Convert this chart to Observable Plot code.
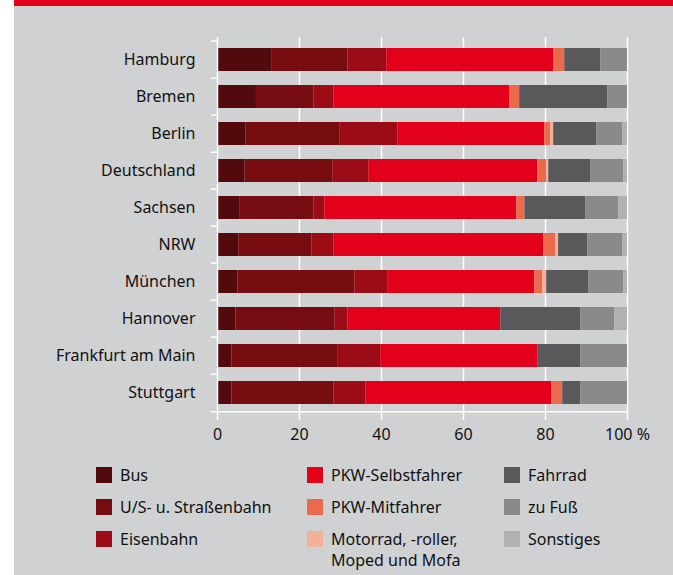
<!DOCTYPE html>
<html>
<head>
<meta charset="utf-8">
<script src="https://cdn.jsdelivr.net/npm/d3@7"></script>
<script src="https://cdn.jsdelivr.net/npm/@observablehq/plot@0.6"></script>
<style>
  html, body { margin: 0; padding: 0; background: #ffffff; }
  #wrap { position: absolute; left: 14px; top: 0; width: 659px; height: 575px; background: #d0d1d3; border-top: 6px solid #e2001a; box-sizing: border-box; font-family: "Noto Sans", sans-serif; color: #111111; }
  #chart { position: absolute; left: 0; top: 0; }
  .leg { position: absolute; font-size: 16px; line-height: 21px; }
  .sw { position: absolute; width: 16px; height: 16px; }
</style>
</head>
<body>
<div id="wrap"><div id="chart"></div><div id="legend"></div></div>
<script>
const cities = ["Hamburg","Bremen","Berlin","Deutschland","Sachsen","NRW","München","Hannover","Frankfurt am Main","Stuttgart"];
const modes = ["Bus","U/S- u. Straßenbahn","Eisenbahn","PKW-Selbstfahrer","PKW-Mitfahrer","Motorrad, -roller, Moped und Mofa","Fahrrad","zu Fuß","Sonstiges"];
const colors = ["#520a0c","#770d10","#9b0c17","#e2001a","#ec6a4c","#f5b09a","#59595b","#8a8a8c","#b1b1b3"];
// shares in % per city, order of modes
const bus        = [13.2, 9.5, 6.9, 6.7, 5.4, 5.2, 5.0, 4.5, 3.5, 3.5];
const bahnUS     = [18.6,14.0,22.9,21.4,18.1,17.8,28.5,24.1,25.8,24.9];
const eisenbahn  = [ 9.5, 4.9,14.2, 8.8, 2.7, 5.4, 8.0, 3.2,10.5, 7.8];
const pkwSelbst  = [40.7,42.9,35.8,41.2,46.8,51.2,35.9,37.3,38.3,45.3];
const pkwMit     = [ 2.7, 2.4, 1.5, 2.2, 2.0, 2.9, 1.9, 0.0, 0.0, 2.7];
const motorrad   = [ 0.0, 0.0, 0.7, 0.5, 0.0, 0.7, 1.0, 0.0, 0.0, 0.0];
const fahrrad    = [ 8.8,21.5,10.5,10.3,14.8, 7.1,10.3,19.5,10.5, 4.4];
const fuss       = [ 6.5, 4.8, 6.3, 8.0, 8.1, 8.5, 8.5, 8.3,11.4,11.4];
const sonstiges  = [ 0.0, 0.0, 1.2, 0.9, 2.1, 1.2, 0.9, 3.1, 0.0, 0.0];
const xTicks = [0, 20, 40, 60, 80, 100];

const series = [bus, bahnUS, eisenbahn, pkwSelbst, pkwMit, motorrad, fahrrad, fuss, sonstiges];
const rows = [];
cities.forEach((c, i) => series.forEach((s, j) => rows.push({city: c, mode: modes[j], value: s[i]})));

const step = 37.7;
const chart = Plot.plot({
  width: 659,
  height: 445,
  marginLeft: 203,
  marginRight: 46,
  marginTop: 31,
  marginBottom: 37,
  style: {background: "transparent", fontFamily: "'Noto Sans', sans-serif", fontSize: "16px", color: "#111111"},
  x: {domain: [0, 100]},
  y: {domain: cities, paddingInner: 0.39, paddingOuter: 0.195},
  color: {domain: modes, range: colors},
  marks: [
    Plot.ruleX(xTicks.slice(1), {stroke: "#ffffff", strokeWidth: 1.5}),
    Plot.barX(rows, Plot.stackX({x: "value", y: "city", fill: "mode", order: modes})),
    Plot.ruleX([0], {stroke: "#ffffff", strokeWidth: 1.5}),
    Plot.ruleY(cities, {y: d => d, x1: -1.5, x2: 0, dy: -step / 2, stroke: "#ffffff", strokeWidth: 1.5}),
    Plot.ruleY([cities[cities.length - 1]], {y: d => d, x1: -1.5, x2: 100, dy: step / 2, stroke: "#ffffff", strokeWidth: 1.5}),
    Plot.axisX({ticks: xTicks, tickSize: 6, tickPadding: 8, stroke: "#ffffff", strokeWidth: 1.5, tickFormat: d => d === 100 ? "100 %" : String(d), label: null, fill: "#111111"}),
    Plot.axisY({tickSize: 0, tickPadding: 22, label: null, fill: "#111111"})
  ]
});
document.getElementById("chart").appendChild(chart);

// legend (HTML) in three columns
const legend = document.getElementById("legend");
const colX = [82, 293, 490];
const rowY = [461, 493, 525];
modes.forEach((m, i) => {
  const col = Math.floor(i / 3), row = i % 3;
  const sw = document.createElement("div");
  sw.className = "sw";
  sw.style.left = colX[col] + "px";
  sw.style.top = rowY[row] + "px";
  sw.style.background = colors[i];
  legend.appendChild(sw);
  const t = document.createElement("div");
  t.className = "leg";
  t.style.left = (colX[col] + 24) + "px";
  t.style.top = (rowY[row] - 2) + "px";
  t.innerHTML = m === "Motorrad, -roller, Moped und Mofa" ? "Motorrad, -roller,<br>Moped und Mofa" : m;
  legend.appendChild(t);
});
</script>
</body>
</html>
